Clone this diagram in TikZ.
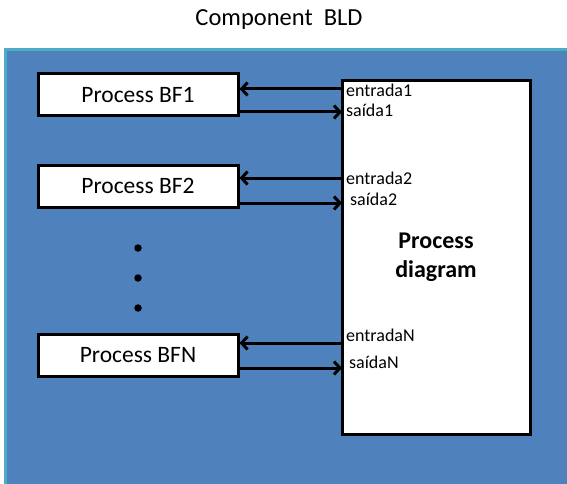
\documentclass[tikz,border=0pt]{standalone}
\usepackage{fontspec}
\setmainfont{Carlito}
\usetikzlibrary{arrows.meta}
\definecolor{bldblue}{RGB}{79,129,189}
\definecolor{bldteal}{RGB}{75,172,198}

\begin{document}
\begin{tikzpicture}[x=1pt,y=-1pt,node distance=91pt,
	block/.style={rectangle,draw=black,fill=white,line width=3pt,minimum width=200pt,minimum height=42pt,font=\fontsize{23.5}{27}\selectfont},
	port/.style={anchor=west,inner sep=0pt,font=\fontsize{18}{20}\selectfont},
	line/.style={draw,line width=3pt,-{Straight Barb[length=6pt,width=13pt,line width=3pt]}},
	dot/.style={circle,fill=black,inner sep=0pt,minimum size=7.5pt}]
\useasboundingbox (0,0) rectangle (567,484);
\fill[white] (0,0) rectangle (567,484);
\node[font=\fontsize{24.5}{28}\selectfont] (title) at (279,20) {Component\ \ BLD};
\draw[fill=bldblue,draw=bldteal,line width=3pt] (5,50) rectangle (580,500);
% process boxes on the left
\node[block] (bf1) at (138,95) {Process BF1};
\node[below of=bf1,block] (bf2) {Process BF2};
\node[below of=bf2,dot,node distance=62pt] (dot1) {};
\node[below of=bf2,dot,node distance=92pt] (dot2) {};
\node[below of=bf2,dot,node distance=122pt] (dot3) {};
\node[below of=bf2,block,node distance=169.5pt] (bfn) {Process BFN};
% the process diagram
\node[rectangle,draw=black,fill=white,line width=3pt,minimum width=188pt,minimum height=353pt,align=center,
	font=\fontsize{24}{29}\selectfont\bfseries] (diagram) at (436,257.5) {Process\\diagram};
\node[port] (e1) at (346,90) {entrada1};
\node[port] (s1) at (346,110) {saída1};
\node[port] (e2) at (346,178) {entrada2};
\node[port] (s2) at (350,199) {saída2};
\node[port] (en) at (346,335) {entradaN};
\node[port] (sn) at (349,362) {saídaN};
\coordinate (in1) at (342,89);
\coordinate (out1) at (342,112);
\coordinate (in2) at (342,178);
\coordinate (out2) at (342,203);
\coordinate (inn) at (342,343);
\coordinate (outn) at (342,368);
\path[line] (in1) -- (in1 -| bf1.east);
\path[line] (out1 -| bf1.east) -- (out1);
\path[line] (in2) -- (in2 -| bf2.east);
\path[line] (out2 -| bf2.east) -- (out2);
\path[line] (inn) -- (inn -| bfn.east);
\path[line] (outn -| bfn.east) -- (outn);
\end{tikzpicture}
\end{document}
